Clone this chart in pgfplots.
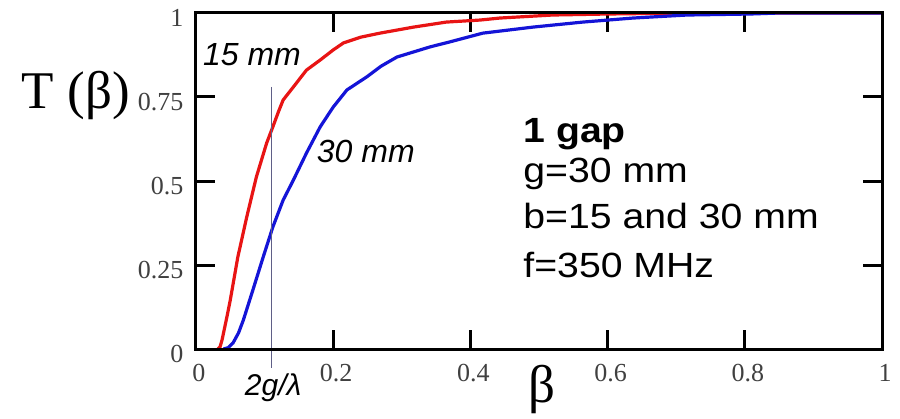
\documentclass[border=0pt]{standalone}
\usepackage{pgfplots}
\pgfplotsset{compat=1.18}
\usepackage{fontspec}
\setmainfont{Liberation Serif}
\newfontfamily\arial{Liberation Sans}

\definecolor{cred}{RGB}{232,20,20}
\definecolor{cblue}{RGB}{20,20,215}
\definecolor{cline}{RGB}{95,95,135}

\begin{document}
\begin{tikzpicture}
\useasboundingbox (-196pt,-69pt) rectangle (704pt,349pt);
\begin{axis}[
  at={(0pt,0pt)}, anchor=origin,
  scale only axis,
  width=686pt, height=336pt,
  xmin=0, xmax=1, ymin=0, ymax=1,
  clip=false,
  axis line style={line width=3pt},
  tick style={black, line width=3pt},
  every tick/.append style={black, line width=3pt},
  xtick style={black, line width=3pt},
  ytick style={black, line width=3pt},
  major tick length=19pt,
  tick align=inside,
  xtick={0,0.2,0.4,0.6,0.8,1},
  xticklabels={0,0.2,0.4,0.6,0.8,1},
  ytick={0,0.25,0.5,0.75,1},
  yticklabels={0,0.25,0.5,0.75,1},
  tick label style={font=\fontsize{26}{26}\selectfont, text=black!75},
  xticklabel style={xshift=3pt, yshift=-12pt},
  yticklabel style={yshift=-5pt, xshift=-9pt},
]
\addplot[cred, line width=3.2pt] coordinates {
  (0.032,0) (0.035,0.006) (0.038,0.027) (0.045,0.095) (0.050,0.146)
  (0.061,0.274) (0.074,0.393) (0.088,0.512) (0.103,0.613) (0.112,0.661)
  (0.120,0.705) (0.127,0.741) (0.142,0.780) (0.161,0.830) (0.181,0.860)
  (0.200,0.890) (0.215,0.911) (0.240,0.928) (0.268,0.940) (0.317,0.958)
  (0.365,0.973) (0.414,0.979) (0.443,0.985) (0.520,0.994) (0.600,0.997)
  (0.716,1.0) (1,1)
};
\addplot[cblue, line width=3.2pt] coordinates {
  (0.040,0) (0.047,0.004) (0.054,0.018) (0.062,0.048) (0.069,0.086)
  (0.083,0.176) (0.098,0.274) (0.112,0.363) (0.127,0.443) (0.142,0.503)
  (0.161,0.583) (0.181,0.661) (0.200,0.720) (0.220,0.771) (0.249,0.810)
  (0.270,0.842) (0.293,0.869) (0.341,0.899) (0.370,0.914) (0.418,0.940)
  (0.491,0.958) (0.564,0.973) (0.637,0.985) (0.716,0.994) (0.808,0.997)
  (0.850,1.0) (1,1)
};
\addplot[cline, line width=1.4pt] coordinates {(0.110,0.78) (0.110,-0.057)};
\draw[line width=3pt] (rel axis cs:0,0) rectangle (rel axis cs:1,1);

\node[anchor=base west, inner sep=0pt, font=\arial\itshape\fontsize{32}{32}\selectfont] at (axis cs:0.010,0.845) {15 mm};
\node[anchor=base west, inner sep=0pt, font=\arial\itshape\fontsize{32}{32}\selectfont] at (axis cs:0.176,0.554) {30 mm};
\node[anchor=base west, inner sep=0pt, font=\arial\itshape\fontsize{30}{30}\selectfont] at (axis cs:0.071,-0.137) {2g/λ};
\node[anchor=base west, inner sep=0pt, font=\fontsize{53}{53}\selectfont] at (axis cs:-0.254,0.717) {T (β)};
\node[anchor=base, inner sep=0pt, font=\fontsize{53}{53}\selectfont] at (axis cs:0.504,-0.158) {β};
\node[anchor=base west, inner sep=0pt, xscale=1.12, font=\arial\bfseries\fontsize{35}{35}\selectfont] at (axis cs:0.477,0.616) {1 gap};
\node[anchor=base west, inner sep=0pt, xscale=1.12, font=\arial\fontsize{35}{35}\selectfont] at (axis cs:0.477,0.497) {g=30 mm};
\node[anchor=base west, inner sep=0pt, xscale=1.12, font=\arial\fontsize{35}{35}\selectfont] at (axis cs:0.477,0.360) {b=15 and 30 mm};
\node[anchor=base west, inner sep=0pt, xscale=1.12, font=\arial\fontsize{35}{35}\selectfont] at (axis cs:0.477,0.214) {f=350 MHz};
\end{axis}
\end{tikzpicture}
\end{document}
